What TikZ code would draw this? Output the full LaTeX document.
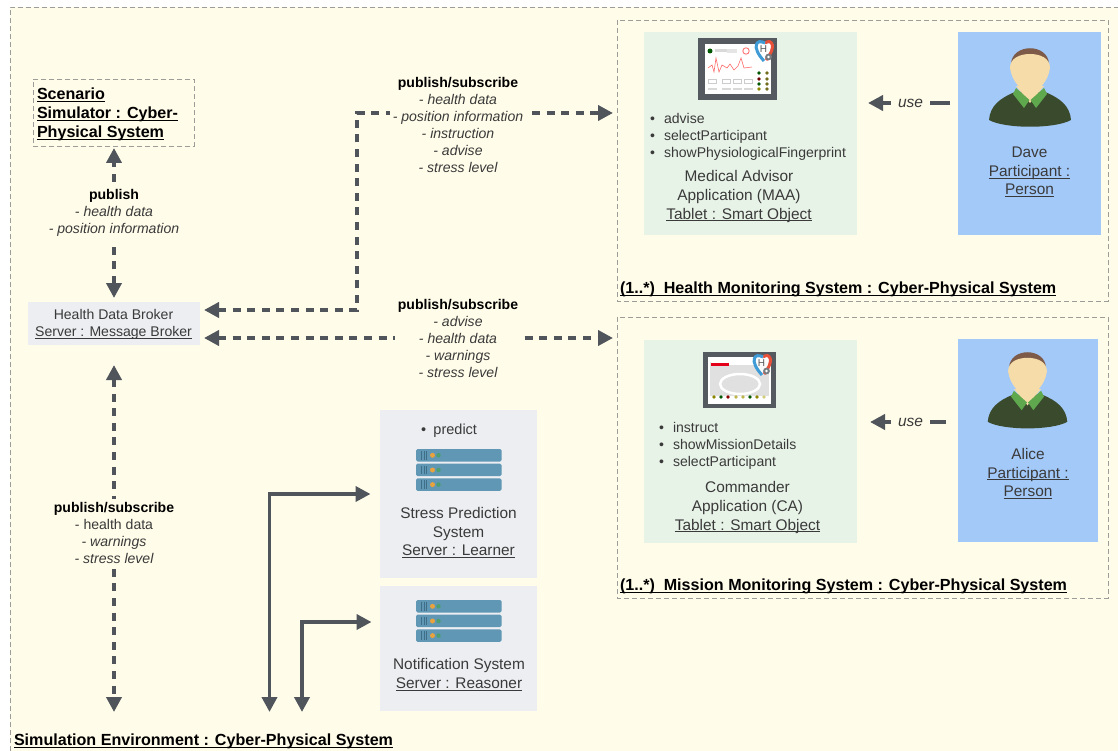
\documentclass[tikz,border=0pt]{standalone}
\usepackage{fontspec}
\setmainfont{Liberation Sans}
\usetikzlibrary{arrows.meta}
\definecolor{bgy}{HTML}{FFFCE9}
\definecolor{frameg}{HTML}{9C9C98}
\definecolor{arrowg}{HTML}{50555C}
\definecolor{mint}{HTML}{E8F3E8}
\definecolor{skyb}{HTML}{A3C9F9}
\definecolor{pale}{HTML}{ECEEF1}
\definecolor{txt}{HTML}{3A3A3A}
\definecolor{barb}{HTML}{5F97B4}
\definecolor{bard}{HTML}{3F6E88}
\definecolor{baro}{HTML}{E8A33F}
\definecolor{barg}{HTML}{4C9F70}
\definecolor{skin}{HTML}{F6DCA8}
\definecolor{hair}{HTML}{7E5B48}
\definecolor{suit}{HTML}{3A4B2D}
\definecolor{collar}{HTML}{5FA84E}
\definecolor{tabg}{HTML}{555A60}
\definecolor{hblue}{HTML}{3E9BD6}
\definecolor{hred}{HTML}{E8503A}
\newsavebox{\ulbox}
\newcommand{\ul}[1]{\leavevmode\sbox{\ulbox}{#1}\rlap{\usebox{\ulbox}}\rule[-2pt]{\wd\ulbox}{0.7pt}}
\newcommand{\ulb}[1]{\leavevmode\sbox{\ulbox}{#1}\rlap{\usebox{\ulbox}}\rule[-2.2pt]{\wd\ulbox}{1pt}}
\newcommand{\bitem}[1]{\makebox[14pt][l]{•}#1}
\tikzset{
  x=1pt,y=-1pt,
  dframe/.style={draw=frameg,line width=0.9pt,dash pattern=on 5pt off 3pt},
  boxn/.style={draw=none,inner sep=0pt,outer sep=0pt,anchor=north west},
  txtn/.style={inner sep=0pt,outer sep=0pt,align=center,text=txt,font=\fontsize{14.05}{17}\selectfont},
  wide/.style={font=\fontsize{15.4}{18.6}\selectfont},
  lbl/.style={txtn,fill=bgy,inner sep=3pt},
  listn/.style={txtn,align=left,anchor=north west,text=txt},
  titlen/.style={inner sep=0pt,outer sep=0pt,anchor=west,text=black,font=\fontsize{16.1}{19}\selectfont\bfseries},
  conn/.style={draw=arrowg,line width=3.8pt},
  dconn/.style={conn,dash pattern=on 8pt off 6.6pt},
  tip2/.style={{Triangle[length=15pt,width=15pt]}-{Triangle[length=15pt,width=15pt]}},
  tip1/.style={-{Triangle[length=15pt,width=15pt]}},
}
% person icon: centre x, top y, scale
\newcommand{\person}[3]{%
 \begin{scope}[shift={(#1,#2)},scale=#3]
  \fill[suit] (-41,72) .. controls (-40,58) and (-30,50) .. (-15,44) -- (15,44) .. controls (30,50) and (40,58) .. (41,72) .. controls (25,81) and (-25,81) .. (-41,72) -- cycle;
  \fill[skin] (-14,38) -- (14,38) -- (0,55) -- cycle;
  \fill[collar] (-14,40) -- (-17,46) -- (-6,60) -- (-0.5,52) -- cycle;
  \fill[collar] (14,40) -- (17,46) -- (6,60) -- (0.5,52) -- cycle;
  \fill[hair] (-19,16) .. controls (-18,-5) and (18,-5) .. (19,16) -- cycle;
  \fill[skin] (-20,20) .. controls (-20,10) and (-10,6) .. (0,6) .. controls (10,6) and (20,10) .. (20,20) .. controls (18,34) and (8,44) .. (0,44) .. controls (-8,44) and (-18,34) .. (-20,20) -- cycle;
 \end{scope}}
% server icon: x, top y
\newcommand{\srv}[2]{%
 \begin{scope}[shift={(#1,#2)}]
  \foreach \yy in {0,14.7,29.3} {
   \fill[barb,rounded corners=1.5pt] (0,\yy) rectangle (85.5,\yy+12.5);
   \foreach \xx in {5.3,7.5,9.7} \fill[bard] (\xx,\yy+2) rectangle (\xx+1.1,\yy+10.5);
   \fill[baro] (16.5,\yy+6.3) circle (2.5);
   \fill[barg] (22.5,\yy+6.3) circle (2.2);
  }
 \end{scope}}
% heart badge: name, x, y of centre
\newcommand{\hbadge}[3]{%
 \begin{scope}[shift={(#2,#3)}]
  \fill[white,opacity=0.85] (0,-7) .. controls (8,-12) and (12,-3) .. (0,11) .. controls (-12,-3) and (-8,-12) .. (0,-7) -- cycle;
  \draw[draw=hred,line width=3pt] (1,-7) .. controls (8,-12) and (13,-3) .. (2,10);
  \draw[draw=hblue,line width=3pt] (1,-7) .. controls (-8,-12) and (-13,-3) .. (0,11);
  \node[inner sep=0pt,text=black!65,font=\fontsize{10}{10}\selectfont] (#1) at (-0.5,-1) {H};
  \fill[tabg!80] (4.5,7) circle (3.4);
  \fill[white] (4.5,7) circle (1.4);
 \end{scope}}
\begin{document}
\begin{tikzpicture}
\useasboundingbox (0,0) rectangle (1118,751);
\fill[white] (0,0) rectangle (1118,751);
\fill[bgy] (10,7) rectangle (1118,751);
\draw[dframe] (10,751) -- (10,7) -- (1118,7);
\draw[dframe] (617,20) rectangle (1108,301);
\draw[dframe] (617,317) rectangle (1108,598);

% boxes
\node[boxn,fill=pale,minimum width=172pt,minimum height=43pt] (broker) at (28,302) {};
\node[boxn,dframe,minimum width=161pt,minimum height=67pt] (scen) at (33,79) {};
\node[boxn,fill=pale,minimum width=157pt,minimum height=168pt] (stress) at (380,410) {};
\node[boxn,fill=pale,minimum width=157pt,minimum height=125pt] (notif) at (380,586) {};
\node[boxn,fill=mint,minimum width=213pt,minimum height=203pt] (maa) at (644,32) {};
\node[boxn,fill=mint,minimum width=213pt,minimum height=203pt] (ca) at (644,340) {};
\node[boxn,fill=skyb,minimum width=143pt,minimum height=203pt] (dave) at (958,32) {};
\node[boxn,fill=skyb,minimum width=140pt,minimum height=203pt] (alice) at (958,339) {};

% connector end points
\coordinate (brkA) at (204,310);
\coordinate (brkB) at (204,338);
\coordinate (brkT) at (114,298);
\coordinate (brkD) at (114,365);
\coordinate (scenB) at (114,148);
\coordinate (maaL) at (613,113);
\coordinate (caL) at (613,338);
\coordinate (simA) at (114,712);
\coordinate (simB) at (269.5,712);
\coordinate (simC) at (302,712);
\coordinate (strL) at (370.5,494);
\coordinate (notL) at (371.5,622);
\coordinate (daveL) at (950,103);
\coordinate (maaR) at (868,103);
\coordinate (aliceL) at (946,422);
\coordinate (caR) at (870,422);

% connectors
\draw[dconn,tip2] (brkT) -- (scenB);
\draw[dconn,tip2] (brkA) -| (357,113) -- (maaL);
\draw[dconn,tip2] (brkB) -- (caL);
\draw[dconn,tip2] (brkD) -- (simA);
\draw[conn,tip2] (simB) |- (strL);
\draw[conn,tip2] (simC) |- (notL);
\draw[conn,tip1] (daveL) -- (maaR);
\draw[conn,tip1] (aliceL) -- (caR);

% connector labels
\node[lbl] (l1) at (458,124.5) {\textcolor{black}{\bfseries publish/subscribe}\\\itshape - health data\\\itshape - position information\\\itshape - instruction\\\itshape - advise\\\itshape - stress level};
\node[lbl] (l2) at (458,338) {\textcolor{black}{\bfseries publish/subscribe}\\\itshape - advise\\\itshape - health data\\\itshape - warnings\\\itshape - stress level};
\node[lbl] (l3) at (114,213) {\textcolor{black}{\bfseries publish}\\\itshape - health data\\\itshape - position information};
\node[lbl] (l4) at (114,532.5) {\textcolor{black}{\bfseries publish/subscribe}\\- health data\\\itshape - warnings\\\itshape - stress level};
\node[lbl,inner sep=7pt,inner ysep=2pt,font=\fontsize{15.5}{17}\selectfont] (u1) at (910.5,103.5) {\itshape use};
\node[lbl,inner sep=7pt,inner ysep=2pt,font=\fontsize{15.5}{17}\selectfont] (u2) at (910.5,422.5) {\itshape use};

% left-side texts
\node[txtn] (brokert) at (113.5,324.5) {Health Data Broker\\\ul{Server : Message Broker}};
\node[titlen,align=left,anchor=north west,font=\fontsize{16.1}{19}\selectfont\bfseries] (scent) at (37,88) {\ulb{Scenario}\\\ulb{Simulator : Cyber-}\\\ulb{Physical System}};
\node[titlen] (simt) at (14,741.5) {\ulb{Simulation Environment : Cyber-Physical System}};
\node[titlen] (hmt) at (620,289.5) {\ulb{(1..*)\ \ Health Monitoring System : Cyber-Physical System}};
\node[titlen] (mmt) at (620,586.5) {\ulb{(1..*)\ \ Mission Monitoring System : Cyber-Physical System}};

% stress and notification
\node[listn,font=\fontsize{14.5}{17}\selectfont] (strl) at (421,423.5) {\makebox[12.5pt][l]{•}predict};
\srv{416}{449}
\node[txtn,wide] (strt) at (458.5,532.5) {Stress Prediction\\System\\\ul{Server : Learner}};
\srv{416}{600}
\node[txtn,wide] (nott) at (459,674.5) {Notification System\\\ul{Server : Reasoner}};

% MAA
\fill[tabg] (698,38) rectangle (777,100);
\fill[white] (704.5,44) rectangle (771,94);
\draw[red!45!pink,line width=0.6pt] (708,68) -- (712,65) -- (714,72) -- (716,58) -- (719,72) -- (722,65) -- (727,68) -- (730,64) -- (734,70) -- (738,66) -- (741,58) -- (744,68) -- (752,67);
\fill[green!35!black] (710,51) circle (2.5);
\draw[red!40!pink,line width=0.9pt] (746,51) circle (3.2);
\fill[black!15] (715,49) rectangle (727,52);
\fill[black!10] (727,49) rectangle (737,53);
\foreach \yy/\cc in {73/green!35!black,79/red!45!black,84/green!35!black,89/olive}{\fill[\cc] (759,\yy) circle (1.9);\fill[olive!75!black] (767,\yy) circle (1.9);}
\foreach \xx in {708,722,733,744}{\draw[black!20,line width=0.5pt] (\xx,79) rectangle +(8,4);\fill[black!15] (\xx,88) rectangle +(9,2);}
\hbadge{hb1}{764}{50}
\node[listn] (maal) at (650,113) {\bitem{advise}\\\bitem{selectParticipant}\\\bitem{showPhysiologicalFingerprint}};
\node[txtn,wide] (maat) at (739,196.5) {Medical Advisor\\Application (MAA)\\\ul{Tablet : Smart Object}};

% CA
\fill[tabg] (703,352) rectangle (776,408);
\fill[white] (708,357) rectangle (771,404);
\fill[black!12] (710,362) rectangle (769,396);
\fill[white] (711,365) -- (760,365) -- (760,358) -- (711,358) -- cycle;
\fill[red!60!purple] (711,363) rectangle (729,365.5);
\draw[white,line width=2.5pt] (740,384) ellipse (20 and 10);
\foreach \xx/\cc in {714/olive,721/green!35!black,728/red!55!black,736/olive!60,743/olive!60,750/green!35!black,757/olive,764/olive!40}{\fill[\cc] (\xx,397) circle (1.9);}
\hbadge{hb2}{762}{364}
\node[listn] (cal) at (659,422) {\bitem{instruct}\\\bitem{showMissionDetails}\\\bitem{selectParticipant}};
\node[txtn,wide] (cat) at (747.5,507.5) {Commander\\Application (CA)\\\ul{Tablet : Smart Object}};

% people
\person{1030}{48}{1}
\node[txtn,wide] (davet) at (1029.5,172) {Dave\\\ul{Participant :}\\\ul{Person}};
\person{1027.5}{352}{0.97}
\node[txtn,wide] (alicet) at (1028,473.5) {Alice\\\ul{Participant :}\\\ul{Person}};
\end{tikzpicture}
\end{document}
